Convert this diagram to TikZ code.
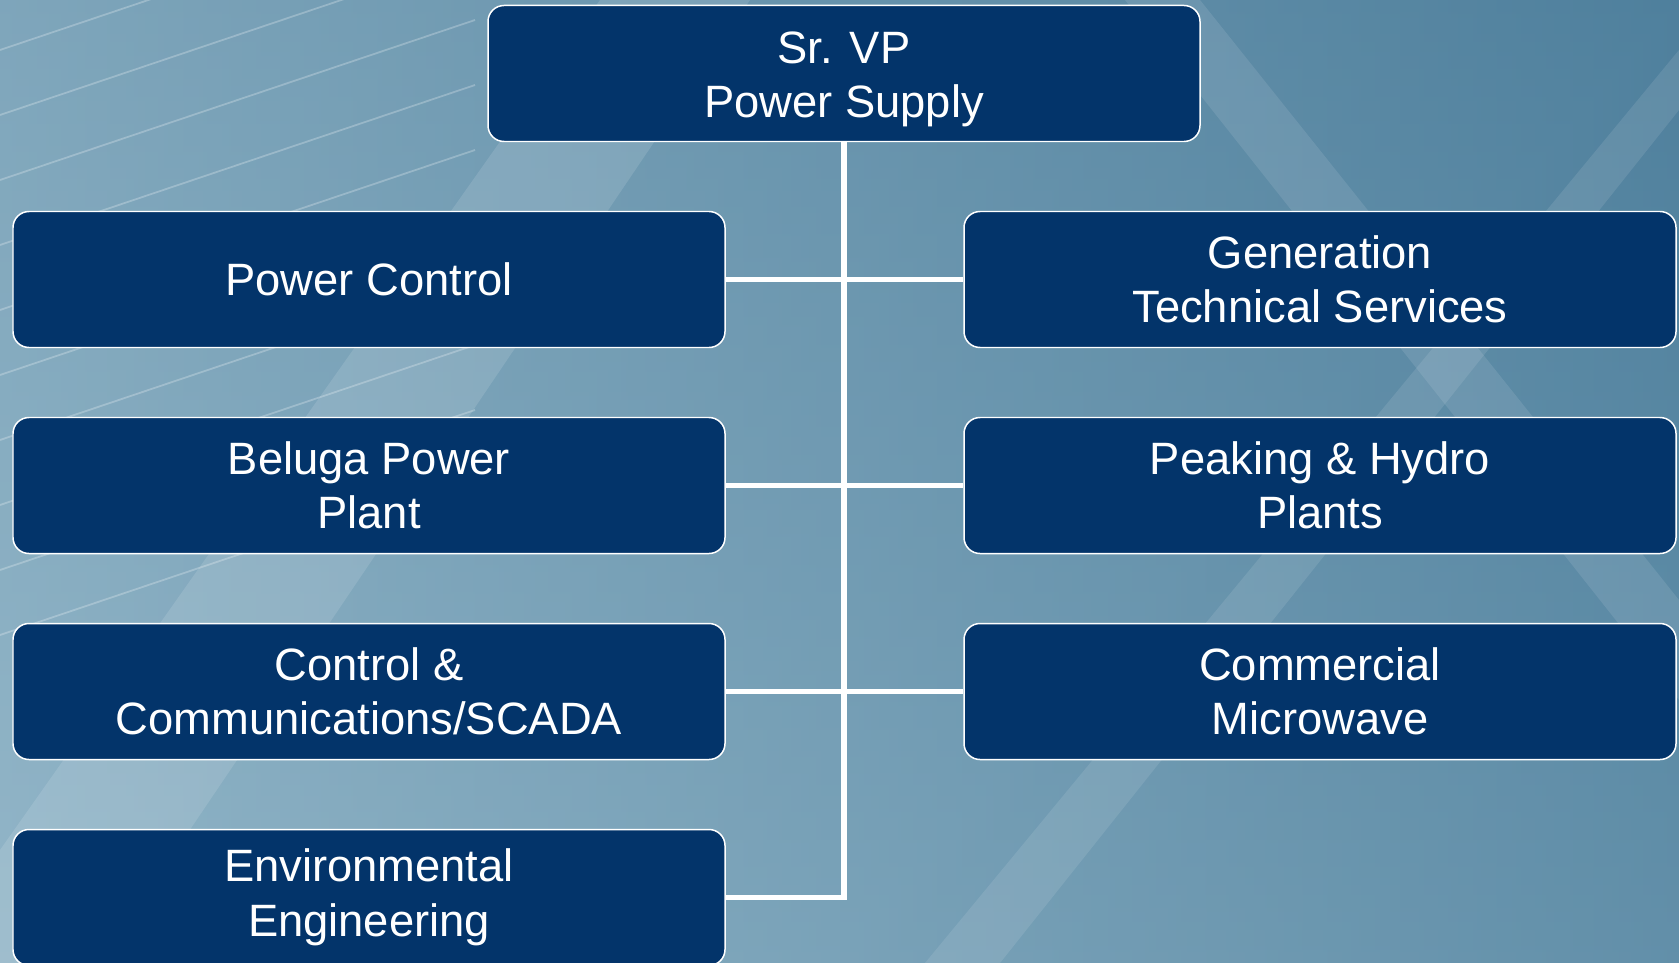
\documentclass[tikz,border=0pt]{standalone}
\usepackage{fontspec}
\setmainfont{Liberation Sans}
\usepackage{tikz}
\usetikzlibrary{positioning,shapes,arrows.meta}
\definecolor{boxNavy}{HTML}{03346A}
\definecolor{bgLight}{HTML}{A6C5D4}
\definecolor{bgMid}{HTML}{7AA3B9}
\definecolor{bgDark}{HTML}{4F809D}
\tikzset{%
  % Specifications for style of nodes:
         orgbox/.style = {rectangle, rounded corners=0.32cm, draw=white,
                          line width=0.85pt, fill=boxNavy, text=white,
                          minimum width=14.24cm, minimum height=2.72cm,
                          text centered, font=\fontsize{25.8}{31}\selectfont},
           head/.style = {orgbox},
           dept/.style = {orgbox},
           conn/.style = {draw=white, line width=3.4pt, line join=miter},
}
\begin{document}
\begin{tikzpicture}[node distance=4.12cm, align=center]
  \useasboundingbox (0,0) rectangle (33.58,-19.26);
  \clip (0,0) rectangle (33.58,-19.26);
  % background
  \shade[left color=bgLight, right color=bgDark] (0,0) rectangle (33.58,-19.26);
  \shade[top color=bgDark, bottom color=bgMid, opacity=0.45] (0,0) rectangle (33.58,-19.26);
  \fill[white, opacity=0.12] (12,0) -- (15,0) -- (2,-19.26) -- (0,-19.26) -- (0,-17) -- cycle;
  \fill[white, opacity=0.10] (22.5,0) -- (24,0) -- (33.58,-12) -- (33.58,-14) -- cycle;
  \fill[white, opacity=0.10] (33.58,-1) -- (33.58,-2.2) -- (20,-19.26) -- (18.5,-19.26) -- cycle;
  \foreach \k in {0,...,9}
    \draw[white, opacity=0.25, line width=1pt] (0,{-1-1.3*\k}) -- (9.5,{2.2-1.3*\k});

  \node (vp)       [head] at (16.88,-1.47)                  {\rule{0pt}{25pt}Sr. VP\\Power Supply};
  \node (pwrctl)   [dept, below of=vp, xshift=-9.5cm]       {Power Control};
  \node (beluga)   [dept, below of=pwrctl]                  {Beluga Power\\Plant};
  \node (scada)    [dept, below of=beluga]                  {Control \&\\Communications/SCADA};
  \node (environ)  [dept, below of=scada]                   {Environmental\\Engineering};
  \node (gents)    [dept, below of=vp, xshift=9.52cm]       {Generation\\Technical Services};
  \node (hydro)    [dept, below of=gents]                   {Peaking \& Hydro\\Plants};
  \node (microw)   [dept, below of=hydro]                   {Commercial\\Microwave};

  \draw[conn] (vp.south) |- (environ.east);
  \draw[conn] (pwrctl.east) -- (gents.west);
  \draw[conn] (beluga.east) -- (hydro.west);
  \draw[conn] (scada.east)  -- (microw.west);
\end{tikzpicture}
\end{document}
